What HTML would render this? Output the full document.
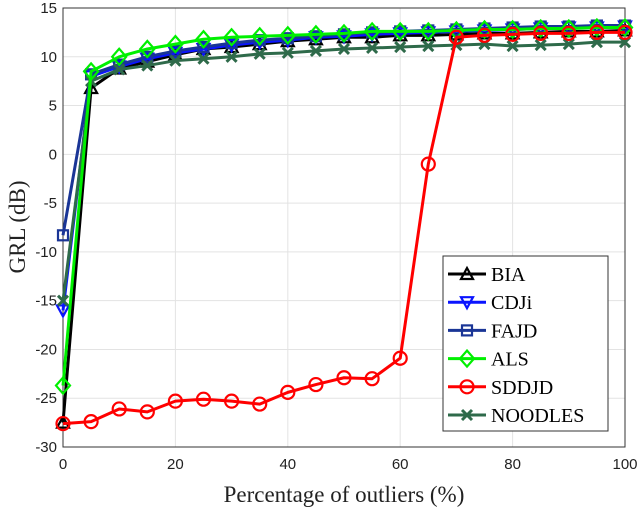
<!DOCTYPE html>
<html><head><meta charset="utf-8"><style>
body{margin:0;background:#fff;}
svg text{font-family:"Liberation Sans",sans-serif;}
</style></head><body>
<svg id="c" width="640" height="510" xmlns="http://www.w3.org/2000/svg"></svg>
<script>
const xVals=[0,5,10,15,20,25,30,35,40,45,50,55,60,65,70,75,80,85,90,95,100];
const bia=[-27.5,6.8,8.8,9.5,10.2,10.8,11,11.3,11.6,11.8,12,12,12.2,12.2,12.3,12.4,12.4,12.5,12.6,12.6,12.7];
const cdji=[-16,8,9,9.8,10.4,10.8,11.2,11.5,11.7,12,12.1,12.3,12.4,12.5,12.6,12.7,12.8,12.9,13,13,13.1];
const fajd=[-8.3,8.2,9.2,10,10.6,11,11.4,11.7,11.9,12.1,12.3,12.5,12.6,12.7,12.8,12.9,13,13.1,13.1,13.2,13.2];
const als=[-23.7,8.5,10,10.8,11.3,11.8,12,12.1,12.2,12.3,12.4,12.6,12.6,12.6,12.7,12.8,12.8,12.9,12.9,13,13];
const sddjd=[-27.6,-27.4,-26.1,-26.4,-25.3,-25.1,-25.3,-25.6,-24.4,-23.6,-22.9,-23.0,-20.9,-1,12,12.2,12.3,12.4,12.4,12.5,12.5];
const noodles=[-15,7.5,8.7,9.1,9.6,9.8,10,10.3,10.4,10.6,10.8,10.9,11,11.1,11.2,11.3,11.1,11.2,11.3,11.5,11.5];
const xTicks=[0,20,40,60,80,100];
const yTicks=[15,10,5,0,-5,-10,-15,-20,-25,-30];
const L=63,R=625,T=8,B=447;
const sx=v=>L+(v-0)/100*(R-L);
const sy=v=>B-(v+30)/45*(B-T);
const NS="http://www.w3.org/2000/svg";
const svg=document.getElementById('c');
function mk(tag,attrs,parent){const e=document.createElementNS(NS,tag);for(const k in attrs)e.setAttribute(k,attrs[k]);(parent||svg).appendChild(e);return e;}
// grid
xTicks.forEach(t=>{const g=mk('line',{x1:sx(t),x2:sx(t),y1:T,y2:B,stroke:'#e3e3e3','stroke-width':1});


const tk=mk('text',{x:sx(t),y:B+22,'text-anchor':'middle','font-size':15,fill:'#222'});tk.textContent=t;

});
yTicks.forEach(t=>{const g=mk('line',{x1:L,x2:R,y1:sy(t),y2:sy(t),stroke:'#e3e3e3','stroke-width':1});


const tk=mk('text',{x:L-6,y:sy(t)+5,'text-anchor':'end','font-size':15,fill:'#222'});tk.textContent=t;

});
const ax=mk('rect',{x:L,y:T,width:R-L,height:B-T,fill:'none',stroke:'#333','stroke-width':1});


function marker(g,type,x,y,col){
 const w=2.2;
 if(type==='tri')mk('polygon',{points:`${x},${y-6} ${x-6},${y+5} ${x+6},${y+5}`,fill:'none',stroke:col,'stroke-width':w},g);
 else if(type==='dtri')mk('polygon',{points:`${x},${y+6} ${x-6},${y-5} ${x+6},${y-5}`,fill:'none',stroke:col,'stroke-width':w},g);
 else if(type==='sq')mk('rect',{x:x-5,y:y-5,width:10,height:10,fill:'none',stroke:col,'stroke-width':w},g);
 else if(type==='dia')mk('polygon',{points:`${x},${y-8} ${x-7},${y} ${x},${y+8} ${x+7},${y}`,fill:'none',stroke:col,'stroke-width':w},g);
 else if(type==='circ')mk('circle',{cx:x,cy:y,r:6.5,fill:'none',stroke:col,'stroke-width':w},g);
 else if(type==='x'){mk('path',{d:`M${x-5},${y-5}L${x+5},${y+5}M${x-5},${y+5}L${x+5},${y-5}`,stroke:col,'stroke-width':3},g);}
}
const series=[
 {name:'BIA',data:bia,col:'#000000',m:'tri'},
 {name:'CDJi',data:cdji,col:'#0a14ff',m:'dtri'},
 {name:'FAJD',data:fajd,col:'#1a3596',m:'sq'},
 {name:'ALS',data:als,col:'#00f000',m:'dia'},
 {name:'SDDJD',data:sddjd,col:'#ff0000',m:'circ'},
 {name:'NOODLES',data:noodles,col:'#2e6a4a',m:'x'}];
const order=[0,1,2,5,3,4];
order.forEach(i=>{const s=series[i];
 const g=mk('g',{});
 
 
 mk('polyline',{points:s.data.map((v,j)=>sx(xVals[j])+','+sy(v)).join(' '),fill:'none',stroke:s.col,'stroke-width':3,'stroke-linejoin':'round'},g);
 s.data.forEach((v,j)=>marker(g,s.m,sx(xVals[j]),sy(v),s.col));
});
// legend
const lg=mk('g',{});


mk('rect',{x:443,y:256,width:165,height:175,fill:'#fff',stroke:'#333','stroke-width':1},lg);
series.forEach((s,i)=>{const y=274+i*28.2;
 const e=mk('g',{},lg);
 
 
 mk('line',{x1:448,x2:486,y1:y,y2:y,stroke:s.col,'stroke-width':3},e);
 marker(e,s.m,467,y,s.col);
 const t=mk('text',{x:491,y:y+7,'font-size':20,fill:'#000','font-family':'Liberation Serif, serif'},e);
 t.setAttribute('style','font-family:"Liberation Serif",serif');
 t.textContent=s.name;});
const xl=mk('text',{x:344,y:502,'text-anchor':'middle','font-size':23,fill:'#222',style:'font-family:"Liberation Serif",serif'});
xl.textContent='Percentage of outliers (%)';


const yl=mk('text',{x:0,y:0,'text-anchor':'middle','font-size':23,fill:'#222',transform:'translate(25,227) rotate(-90)',style:'font-family:"Liberation Serif",serif'});
yl.textContent='GRL (dB)';


</script>
</body></html>
